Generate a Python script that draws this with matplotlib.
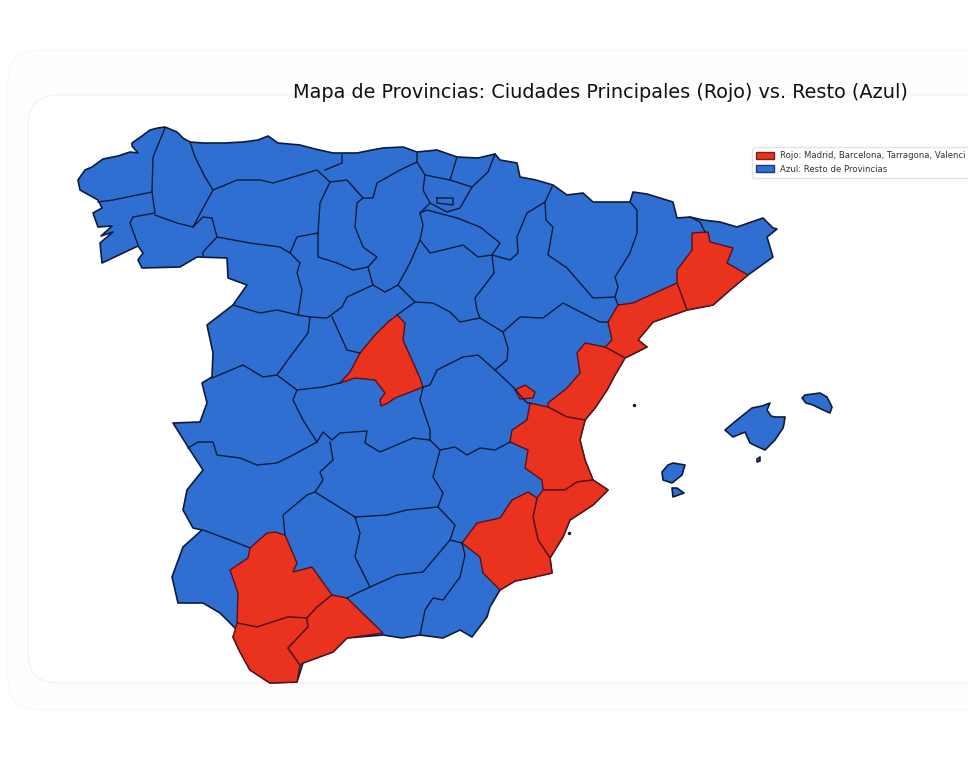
import matplotlib
matplotlib.use("Agg")
import matplotlib.pyplot as plt
from matplotlib.patches import FancyBboxPatch, Patch

TITLE = "Mapa de Provincias: Ciudades Principales (Rojo) vs. Resto (Azul)"
LEGEND_LABELS = ["Rojo: Madrid, Barcelona, Tarragona, Valenci", "Azul: Resto de Provincias"]
BLUE = "#2f6fd2"
RED = "#e9331f"
EDGE = "#0d1b3a"

MAINLAND = [(78,180),(85,170),(92,167),(103,159),(118,156),(130,152),(138,153),(132,146),(132,143),(142,136),(150,130),(158,128),(165,127),(177,132),(183,138),(190,142),(203,143),(225,143),(243,142),(258,140),(268,136),(278,143),(300,145),(315,149),(333,153),(357,153),(372,150),(383,148),(403,147),(417,152),(437,150),(457,157),(478,158),(495,154),(500,160),(517,163),(520,177),(536,180),(553,185),(567,195),(583,193),(593,202),(630,202),(633,192),(647,194),(660,198),(673,202),(677,218),(690,217),(703,220),(720,222),(737,227),(763,218),(773,228),(777,229),(767,237),(773,257),(748,275),(730,290),(713,305),(687,310),(653,322),(638,340),(647,347),(625,358),(615,375),(607,390),(595,408),(585,420),(580,440),(585,460),(593,480),(608,490),(593,505),(570,520),(563,537),(550,558),(552,573),(530,578),(515,581),(500,590),(490,607),(487,617),(472,637),(460,630),(443,638),(420,635),(402,638),(383,635),(347,638),(333,652),(303,663),(297,682),(270,683),(250,670),(240,652),(233,637),(237,630),(220,613),(203,603),(178,603),(172,577),(183,547),(202,530),(193,528),(183,510),(187,490),(203,470),(190,450),(173,423),(200,422),(207,403),(202,383),(212,377),(213,353),(207,325),(233,305),(247,285),(228,278),(227,258),(197,257),(180,267),(142,268),(138,260),(143,253),(138,246),(102,263),(100,243),(113,232),(101,236),(112,226),(98,227),(93,213),(102,208),(98,200),(80,190)]
MALLORCA = [(725,430),(737,420),(752,408),(762,406),(770,403),(767,410),(771,416),(775,417),(785,417),(784,424),(783,428),(775,440),(765,450),(756,446),(750,443),(745,432),(733,437)]
MENORCA = [(802,398),(805,395),(813,394),(820,393),(827,397),(832,407),(830,413),(821,409),(813,405),(806,403)]
IBIZA = [(662,472),(668,465),(673,463),(685,465),(682,475),(672,483),(663,480)]
FORMENTERA = [(672,488),(677,488),(684,493),(673,497)]
CABRERA = [(757,459),(760,457),(760,461),(757,462)]
ISLETS = [(634,405),(569,533)]

MADRID = [(397,315),(405,323),(403,340),(412,360),(420,378),(423,387),(408,393),(395,398),(388,403),(381,406),(380,400),(385,393),(375,380),(355,378),(340,383),(350,372),(360,353),(375,335),(388,322)]
BARCELONA = [(677,283),(677,270),(692,250),(692,233),(708,232),(710,242),(733,248),(727,263),(748,275),(730,290),(713,305),(687,310)]
TARRAGONA = [(618,305),(633,303),(677,283),(687,310),(653,322),(638,340),(647,347),(625,358),(605,347),(612,340),(608,322)]
CASTELLON = [(605,347),(625,358),(615,375),(607,390),(595,408),(585,420),(567,417),(548,407),(548,403),(567,388),(580,373),(577,353),(585,343)]
VALENCIA = [(530,403),(548,407),(567,417),(585,420),(580,440),(585,460),(593,480),(577,482),(565,490),(543,490),(542,480),(525,468),(528,450),(510,442),(512,430),(527,420)]
ADEMUZ = [(515,390),(525,385),(535,392),(533,398),(520,399)]
ALICANTE = [(543,490),(565,490),(577,482),(593,480),(608,490),(593,505),(570,520),(563,537),(550,558),(538,540),(533,517),(537,498)]
MURCIA = [(462,543),(477,523),(500,518),(512,500),(528,492),(537,498),(533,517),(538,540),(550,558),(552,573),(530,578),(515,581),(500,590),(483,573),(480,557)]
SEVILLA = [(285,535),(297,563),(293,572),(312,567),(332,595),(317,607),(307,618),(288,617),(257,627),(237,623),(238,593),(230,570),(248,558),(250,548),(267,533),(275,532)]
CADIZ = [(237,623),(257,627),(288,617),(307,618),(308,627),(288,648),(300,665),(297,682),(270,683),(250,670),(240,652),(233,637)]
MALAGA = [(307,618),(317,607),(332,595),(347,598),(383,633),(347,638),(333,652),(303,663),(300,665),(288,648),(308,627)]

BORDERS = {
    "coruna_lugo": [(165,128),(153,157),(152,192)],
    "coruna_pontevedra": [(152,192),(113,200),(98,202)],
    "lugo_ourense": [(152,192),(155,213),(133,217),(130,223),(138,245)],
    "lugo_asturias": [(190,142),(195,157),(205,177),(213,190),(202,210),(193,227),(177,223),(155,215)],
    "ourense_zamora": [(193,227),(203,217),(212,218),(217,237),(203,252),(203,257)],
    "asturias_leon": [(213,190),(237,180),(260,180),(273,183),(317,170),(330,182)],
    "asturias_cantabria": [(342,155),(342,163),(325,170)],
    "leon_palencia": [(330,182),(320,203),(318,233)],
    "leon_zamora": [(217,237),(250,243),(280,247),(290,253),(297,237),(318,233)],
    "zamora_valladolid": [(290,253),(300,263),(297,273),(302,290),(298,315)],
    "zamora_salamanca": [(233,305),(260,313),(277,310),(298,315)],
    "palencia_burgos": [(330,182),(347,180),(363,198),(357,203),(355,227),(363,247),(377,257),(368,267)],
    "palencia_valladolid": [(318,233),(318,257),(337,263),(353,270),(368,267)],
    "valladolid_burgos": [(368,267),(373,285)],
    "valladolid_segovia": [(373,285),(347,297),(342,307),(327,318),(310,317),(298,315)],
    "salamanca_avila": [(310,317),(308,333),(290,357),(277,375)],
    "salamanca_caceres": [(212,378),(243,365),(263,377),(277,375)],
    "avila_segovia": [(332,317),(347,350),(360,353)],
    "avila_toledo": [(277,375),(297,390),(323,387),(340,383)],
    "caceres_toledo": [(297,390),(293,400),(303,420),(317,442)],
    "caceres_badajoz": [(188,448),(198,442),(213,442),(217,455),(240,458),(257,465),(277,463),(293,455),(317,442)],
    "toledo_ciudadreal": [(317,442),(323,432),(332,440),(340,433),(367,431),(365,443),(380,452),(413,438),(430,440)],
    "toledo_cuenca": [(423,387),(420,400),(430,430),(430,440)],
    "cantabria_burgos": [(363,198),(373,198),(377,183),(400,170),(417,162),(417,153)],
    "bizkaia_alava": [(417,162),(425,175),(450,180)],
    "bizkaia_gipuzkoa": [(457,157),(450,180)],
    "gipuzkoa_navarra": [(495,154),(488,172),(472,187),(450,180)],
    "burgos_alava": [(425,175),(423,190),(430,203),(447,212),(460,208),(472,187)],
    "trevino": [(437,198),(453,198),(453,205),(437,203),(437,198)],
    "navarra_rioja": [(420,213),(427,210),(457,218),(480,227),(500,243),(492,255)],
    "alava_rioja": [(430,203),(420,213)],
    "navarra_south": [(492,255),(510,260),(518,253),(517,237),(527,213),(545,202),(552,187)],
    "zaragoza_huesca": [(545,202),(546,220),(553,227),(548,255),(567,268),(593,298),(615,297)],
    "rioja_soria": [(420,213),(423,225),(420,240),(430,253),(443,250),(463,245),(478,257),(492,255)],
    "burgos_soria": [(420,240),(410,263),(398,285),(385,292),(373,285)],
    "soria_zaragoza": [(492,255),(494,273),(475,298),(477,310),(480,318)],
    "soria_guadalajara": [(398,285),(415,302),(433,303),(450,312),(460,322),(480,318)],
    "segovia_guadalajara": [(415,302),(397,315)],
    "guadalajara_zaragoza": [(480,318),(503,332)],
    "guadalajara_teruel": [(503,332),(508,348),(507,360),(495,370)],
    "guadalajara_cuenca": [(423,387),(430,385),(437,370),(463,357),(478,355),(495,370)],
    "cuenca_teruel": [(495,370),(513,387),(527,403),(530,403)],
    "zaragoza_teruel": [(503,332),(520,317),(543,318),(563,303),(600,322),(608,322)],
    "huesca_lleida": [(630,202),(637,210),(637,233),(630,253),(615,277),(618,287),(615,297),(618,305)],
    "andorra": [(690,217),(700,222),(705,232)],
    "cuenca_albacete": [(430,440),(440,450),(455,447),(467,455),(480,448),(495,450),(510,442)],
    "albacete_ciudadreal": [(440,450),(433,477),(443,493),(438,507)],
    "albacete_jaen": [(438,507),(455,525),(450,540),(462,543)],
    "ciudadreal_cordoba": [(315,492),(355,517)],
    "ciudadreal_jaen": [(355,517),(387,515),(407,510),(438,507)],
    "ciudadreal_badajoz": [(330,442),(333,460),(320,472),(323,480),(315,492)],
    "badajoz_cordoba": [(315,492),(307,495),(283,515),(285,535)],
    "badajoz_huelva": [(250,548),(230,540),(203,530)],
    "cordoba_jaen": [(355,517),(360,533),(355,557),(370,587)],
    "cordoba_granada": [(370,587),(357,593),(347,598)],
    "jaen_granada": [(370,587),(397,575),(423,572),(450,540)],
    "granada_almeria": [(462,543),(465,555),(460,577),(443,600),(433,598),(425,610),(420,635)],
}

fig = plt.figure(figsize=(9.68, 7.68), dpi=100, facecolor="white")
ax = fig.add_axes([0, 0, 1, 1])
ax.set_xlim(0, 968)
ax.set_ylim(768, 0)
ax.axis("off")

ax.add_patch(FancyBboxPatch((8, 50), 1100, 660, boxstyle="round,pad=0,rounding_size=30", fc="#fefefe", ec="#f9f9f9", lw=1))
ax.add_patch(FancyBboxPatch((28, 95), 1100, 588, boxstyle="round,pad=0,rounding_size=30", fc="white", ec="#f3f3f3", lw=1))

for shape in (MAINLAND, MALLORCA, MENORCA, IBIZA, FORMENTERA, CABRERA):
    xs, ys = zip(*shape)
    ax.fill(xs, ys, fc=BLUE, ec=EDGE, lw=1.2, joinstyle="round", zorder=2)
ax.plot(*zip(*ISLETS), ls="none", marker="o", ms=1.5, color=EDGE, zorder=2)
for shape in (MADRID, BARCELONA, TARRAGONA, CASTELLON, VALENCIA, ADEMUZ, ALICANTE, MURCIA, SEVILLA, CADIZ, MALAGA):
    xs, ys = zip(*shape)
    ax.fill(xs, ys, fc=RED, ec="#5a1018", lw=1.0, joinstyle="round", zorder=3)
for line in BORDERS.values():
    xs, ys = zip(*line)
    ax.plot(xs, ys, color=EDGE, lw=1.0, solid_joinstyle="round", zorder=4)

ax.text(600.5, 93, TITLE, ha="center", va="center", fontsize=13.87, color="#111111", family="DejaVu Sans")

leg = ax.legend(handles=[Patch(fc=RED, ec="#7a2018", label=LEGEND_LABELS[0]),
                         Patch(fc=BLUE, ec="#1a3a70", label=LEGEND_LABELS[1])],
                loc="upper left", bbox_to_anchor=(752 / 968, 1 - 147 / 768),
                borderaxespad=0, fontsize=6.15, frameon=True, framealpha=1,
                edgecolor="#e2e2e2", fancybox=True, handlelength=2.1, handleheight=0.8,
                borderpad=0.5, labelspacing=0.5, handletextpad=0.7)
leg.set_zorder(6)
for t in leg.get_texts():
    t.set_color("#333333")

fig.savefig("out.png", dpi=100)
